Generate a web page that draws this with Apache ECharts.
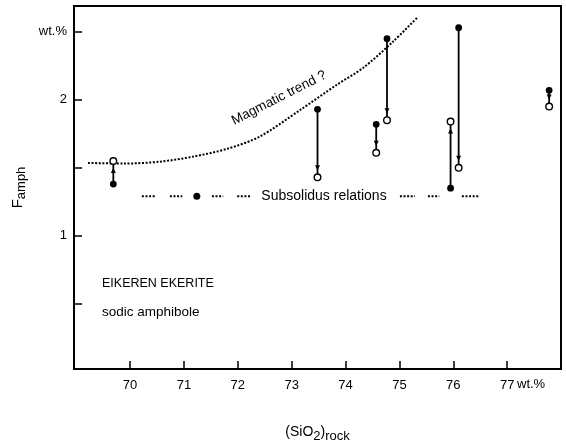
<!DOCTYPE html>
<html><head><meta charset="utf-8">
<script src="https://cdn.jsdelivr.net/npm/echarts@6/dist/echarts.min.js"></script>
<style>html,body{margin:0;padding:0;background:#fff}#c{width:566px;height:443px}</style>
</head><body><div id="c"></div>
<script>
// ---- data ----
var xTicks = [70, 71, 72, 73, 74, 75, 76, 77];
var yTicks = [0.5, 1, 1.5, 2, 2.5];
var yLabels = [1, 2, 2.5];
// SiO2 of pairs
var pairX      = [69.69, 73.48, 74.57, 74.77, 75.95, 76.10, 77.78];
// filled symbol F value
var pairFilled = [1.38, 1.93, 1.82, 2.45, 1.35, 2.53, 2.07];
// open symbol F value
var pairOpen   = [1.55, 1.43, 1.61, 1.85, 1.84, 1.50, 1.95];
// standalone point on subsolidus line
var singleX = [71.24];
var singleY = [1.29];
// magmatic trend curve
var trendX = [69.22, 69.87, 70.56, 71.17, 71.80, 72.41, 73.16, 73.84, 74.33, 74.88, 75.33];
var trendY = [1.536, 1.531, 1.545, 1.582, 1.639, 1.730, 1.926, 2.111, 2.236, 2.427, 2.604];
// subsolidus dotted segments
var subsY = 1.29;
var subsStart = [70.22, 70.74, 71.52, 71.99, 75.01, 75.53, 76.16];
var subsEnd   = [70.46, 70.97, 71.73, 72.23, 75.29, 75.74, 76.48];

var FONT = '"Liberation Sans", Arial, sans-serif';

var pairData = pairX.map(function (x, i) { return [x, pairFilled[i], pairOpen[i]]; });
var trendData = trendX.map(function (x, i) { return [x, trendY[i]]; });
var subsData = [];
subsStart.forEach(function (s, i) { subsData.push([s, subsY], [subsEnd[i], subsY], [subsEnd[i], null]); });

var chart = echarts.init(document.getElementById('c'));
chart.setOption({
  animation: false,
  backgroundColor: '#fff',
  grid: { left: 74, right: 5, top: 6, bottom: 74, outerBoundsMode: 'none', containLabel: false,
    show: true, borderColor: '#000', borderWidth: 2, backgroundColor: 'transparent' },
  xAxis: {
    type: 'value', min: 68.96, max: 78,
    splitLine: { show: false },
    axisLine: { lineStyle: { color: '#000', width: 2 } },
    axisTick: { inside: true, length: 8, lineStyle: { color: '#000', width: 1.5 }, customValues: xTicks },
    axisLabel: { customValues: xTicks, color: '#000', fontSize: 13, fontFamily: FONT, margin: 10,
      formatter: function (v) { return String(Math.round(v)); } },
    name: '{n|(SiO}{s|2}{n|)}{s|rock}',
    nameLocation: 'middle', nameGap: 56,
    nameTextStyle: {
      rich: {
        n: { fontSize: 14, fontFamily: FONT, color: '#000', lineHeight: 17, verticalAlign: 'top' },
        s: { fontSize: 13, fontFamily: FONT, color: '#000', lineHeight: 17, verticalAlign: 'top', padding: [5, 0, 0, 0] }
      }
    }
  },
  yAxis: {
    type: 'value', min: 0.02, max: 2.69,
    splitLine: { show: false },
    axisLine: { lineStyle: { color: '#000', width: 2 } },
    axisTick: { inside: true, length: 8, lineStyle: { color: '#000', width: 1.5 }, customValues: yTicks },
    axisLabel: { customValues: yLabels, color: '#000', fontSize: 13, fontFamily: FONT, margin: 7,
      formatter: function (v) { return Math.abs(v - 2.5) < 1e-6 ? 'wt.%' : String(Math.round(v)); } },
    name: '{n|F}{s|amph}',
    nameLocation: 'middle', nameRotate: 90, nameGap: 44,
    nameTextStyle: {
      rich: {
        n: { fontSize: 15, fontFamily: FONT, color: '#000', lineHeight: 17, verticalAlign: 'top' },
        s: { fontSize: 13, fontFamily: FONT, color: '#000', lineHeight: 17, verticalAlign: 'top', padding: [5, 0, 0, 0] }
      }
    }
  },
  graphic: [
    { type: 'text', left: 517, top: 378, style: { text: 'wt.%', font: '13px ' + FONT, fill: '#000' } },
    { type: 'text', x: 279, y: 98, rotation: 0.47, style: { text: 'Magmatic trend ?', font: '13.5px ' + FONT, fill: '#000', align: 'center', verticalAlign: 'middle' } },
    { type: 'text', x: 324, y: 196, style: { text: 'Subsolidus relations', font: '14px ' + FONT, fill: '#000', align: 'center', verticalAlign: 'middle' } },
    { type: 'text', x: 102, y: 284, style: { text: 'EIKEREN EKERITE', font: '12.5px ' + FONT, fill: '#000', verticalAlign: 'middle' } },
    { type: 'text', x: 102, y: 312, style: { text: 'sodic amphibole', font: '13.5px ' + FONT, fill: '#000', verticalAlign: 'middle' } }
  ],
  series: [
    {
      type: 'line', data: trendData, smooth: 0.3, showSymbol: false, silent: true,
      lineStyle: { color: '#000', width: 2, type: [2, 1.6] }, z: 2
    },
    {
      type: 'line', data: subsData, showSymbol: false, connectNulls: false, silent: true,
      lineStyle: { color: '#000', width: 2, type: [2, 1.6] }, z: 2
    },
    {
      type: 'scatter', data: singleX.map(function (x, i) { return [x, singleY[i]]; }),
      symbol: 'circle', symbolSize: 7, itemStyle: { color: '#000', opacity: 1 }, z: 5
    },
    {
      type: 'custom', data: pairData, z: 5,
      renderItem: function (params, api) {
        var p1 = api.coord([api.value(0), api.value(1)]);
        var p2 = api.coord([api.value(0), api.value(2)]);
        var dy = p2[1] - p1[1];
        var dir = dy >= 0 ? 1 : -1;
        var len = Math.abs(dy);
        var tipDist = Math.min(7, len * 0.45);
        var tipY = p2[1] - dir * tipDist;
        var ah = 5, aw = 2.5;
        return {
          type: 'group',
          children: [
            { type: 'line', shape: { x1: p1[0], y1: p1[1], x2: p2[0], y2: p2[1] }, style: { stroke: '#000', lineWidth: 1.8 } },
            { type: 'polygon', shape: { points: [[p2[0], tipY], [p2[0] - aw, tipY - dir * ah], [p2[0] + aw, tipY - dir * ah]] }, style: { fill: '#000' } },
            { type: 'circle', shape: { cx: p1[0], cy: p1[1], r: 3.4 }, style: { fill: '#000' } },
            { type: 'circle', shape: { cx: p2[0], cy: p2[1], r: 3.3 }, style: { fill: '#fff', stroke: '#000', lineWidth: 1.4 } }
          ]
        };
      }
    }
  ]
});
</script>
</body></html>
